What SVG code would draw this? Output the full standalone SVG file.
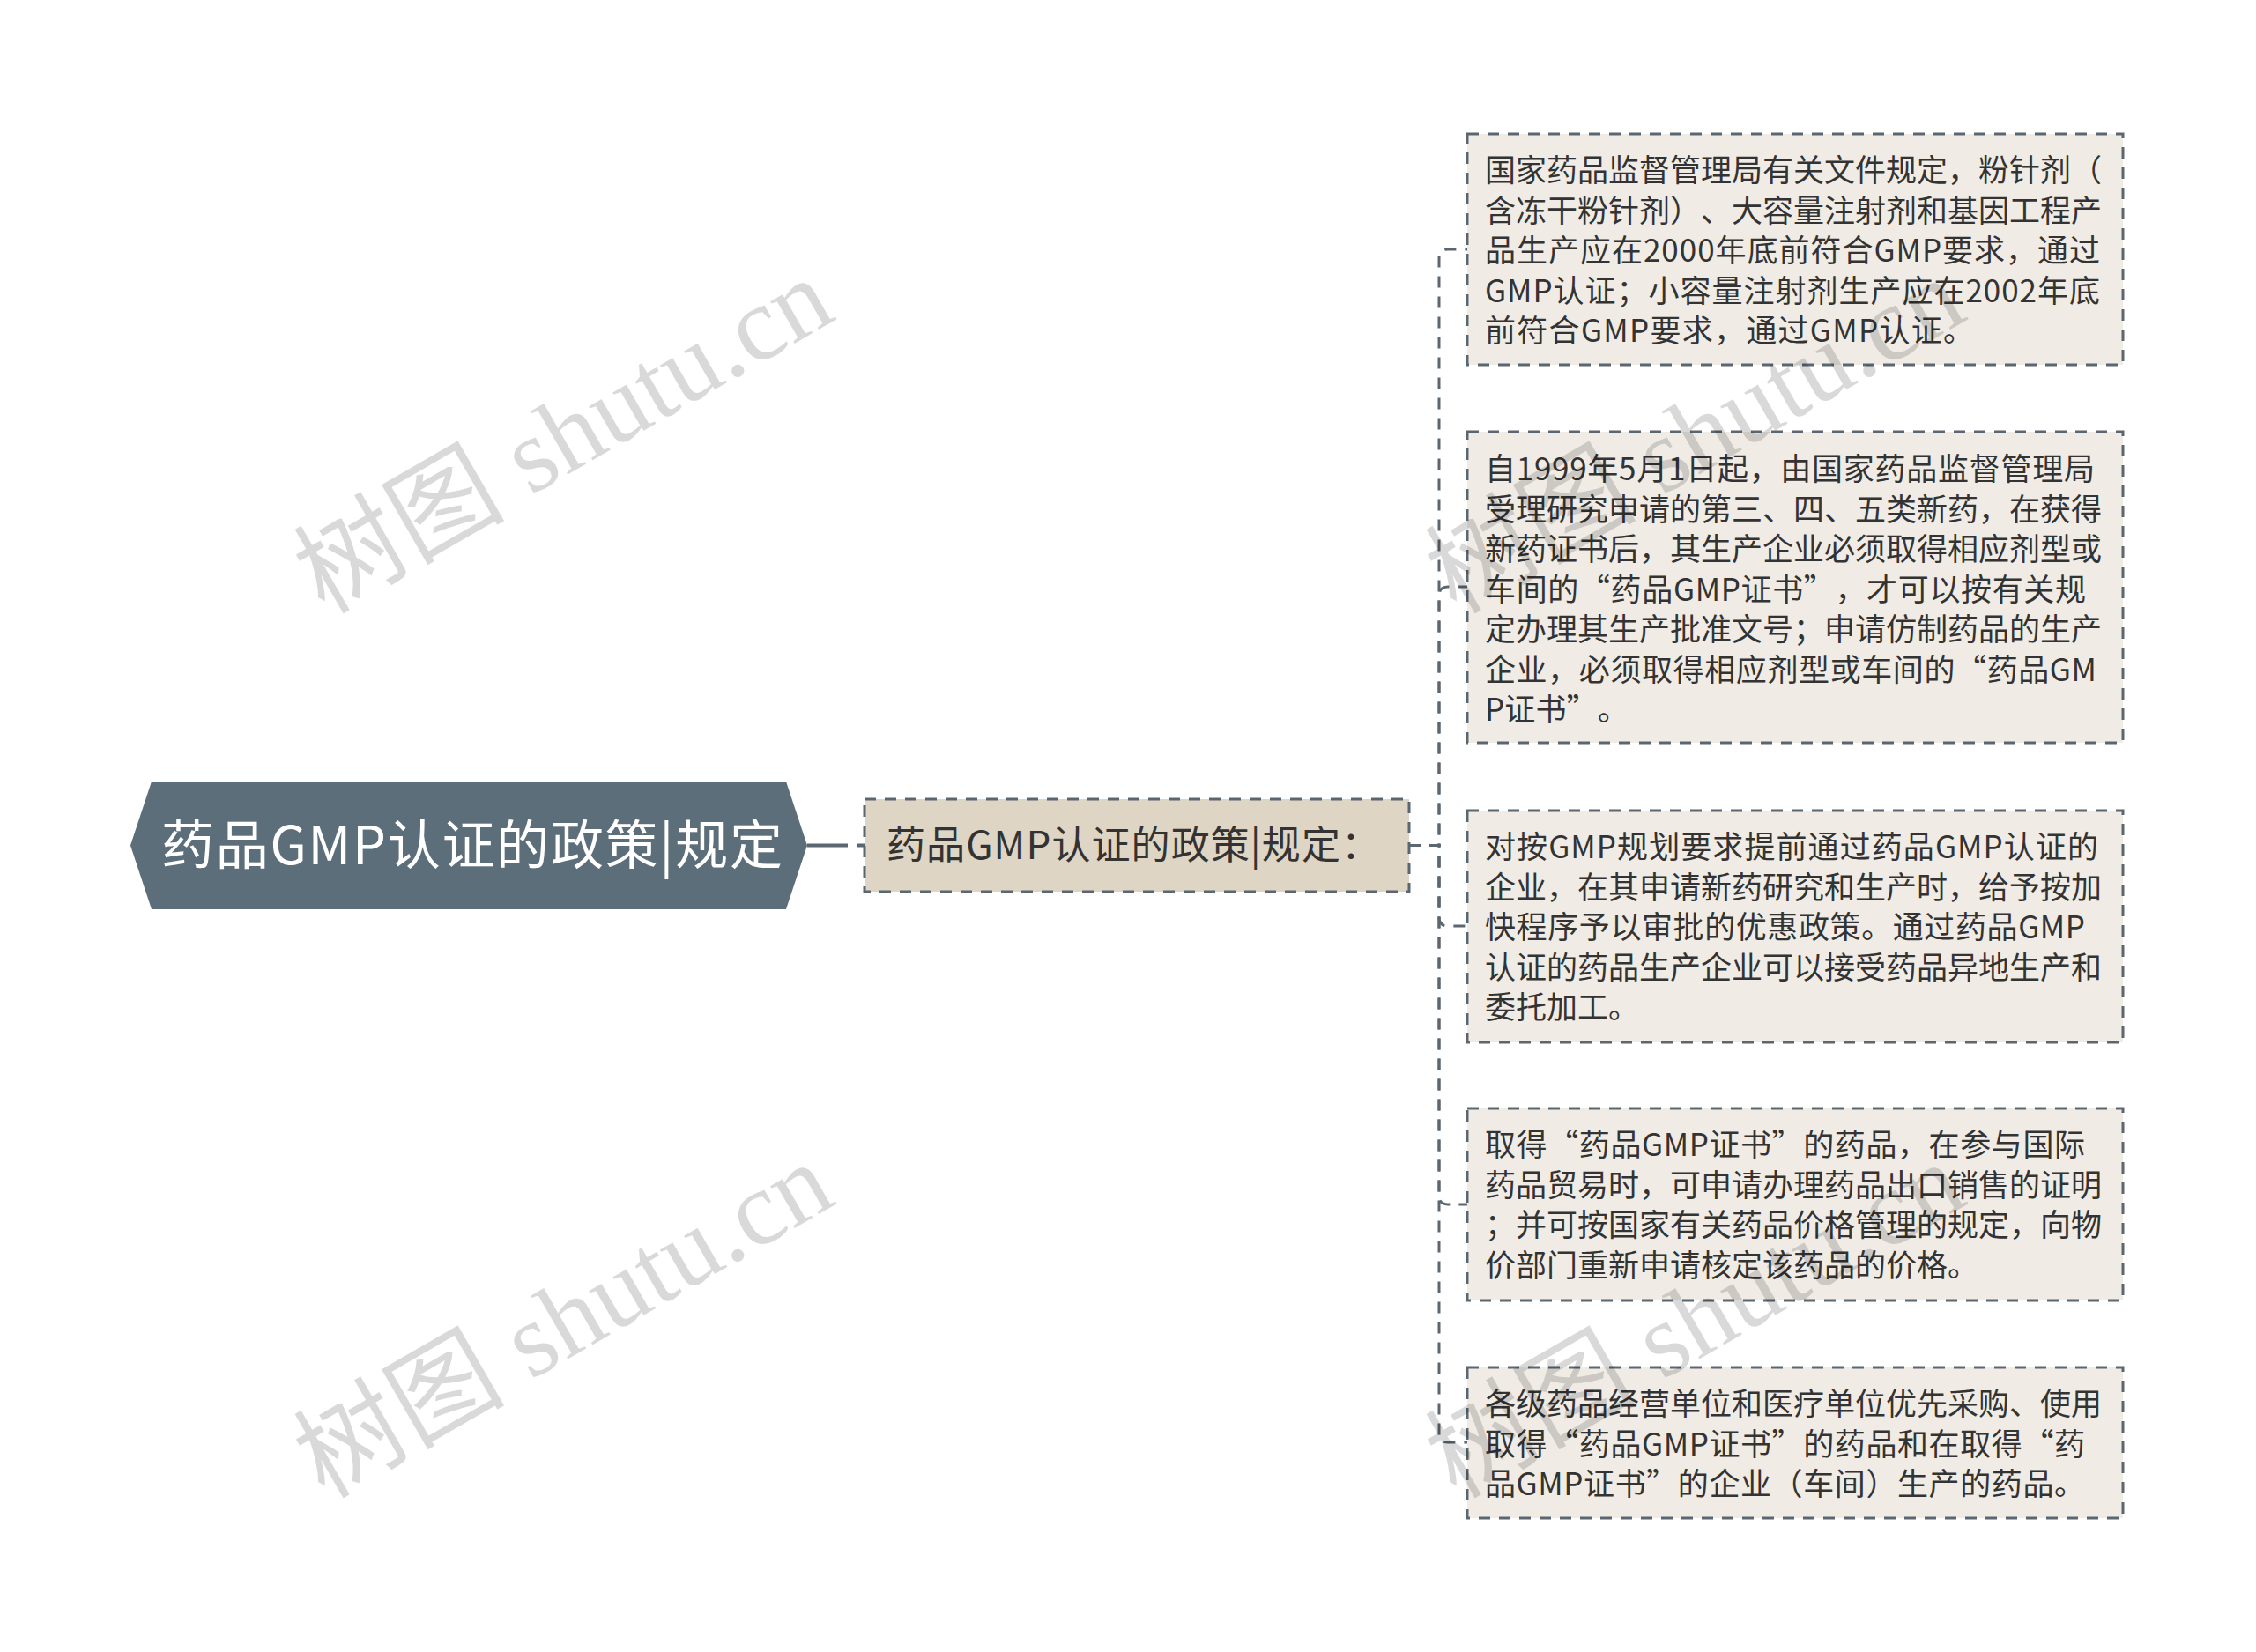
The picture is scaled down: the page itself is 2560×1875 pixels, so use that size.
<svg xmlns="http://www.w3.org/2000/svg" width="2560" height="1875" viewBox="0 0 2560 1875">
<style>
text{text-spacing-trim:space-all;font-feature-settings:"chws" 0,"halt" 0}
.leaf rect{fill:#f0ece5;stroke:#5b6770;stroke-width:3;stroke-dasharray:13 10}
.leaf text{font-family:"Noto Sans CJK SC","Noto Sans",sans-serif;font-size:35px;fill:#333}
.conn{fill:none;stroke:#5b6770;stroke-width:3;stroke-dasharray:13 10}
.wm{font-family:"Liberation Serif","Noto Sans CJK SC",serif;font-size:120px;fill:#000;fill-opacity:0.15}
</style>
<rect width="2560" height="1875" fill="#fff"/>
<g id="connectors">
<path d="M916 959.5 H981" fill="none" stroke="#5b6770" stroke-width="4" stroke-dasharray="46 10"/>
<path class="conn" d="M1599 959.5 H1633 V293 Q1633 283 1643 283 H1665"/>
<path class="conn" d="M1599 959.5 H1633 V676 Q1633 666 1643 666 H1665"/>
<path class="conn" d="M1599 959.5 H1633 V1041 Q1633 1051 1643 1051 H1665"/>
<path class="conn" d="M1599 959.5 H1633 V1357 Q1633 1367 1643 1367 H1665"/>
<path class="conn" d="M1599 959.5 H1633 V1627 Q1633 1637 1643 1637 H1665"/>
</g>
<g id="root">
<polygon points="148,959.5 172,887 892,887 916,959.5 892,1032 172,1032" fill="#5c6e79"/>
<text x="183" y="981" textLength="705" lengthAdjust="spacing" font-family="'Noto Sans CJK SC','Noto Sans',sans-serif" font-size="60" fill="#fff">药品GMP认证的政策|规定</text>
</g>
<g id="middle">
<rect x="981" y="907" width="618" height="105" fill="#dfd5c5" stroke="#5b6770" stroke-width="3" stroke-dasharray="13 10"/>
<text x="1006" y="975" textLength="560" lengthAdjust="spacing" font-family="'Noto Sans CJK SC','Noto Sans',sans-serif" font-size="44" fill="#333">药品GMP认证的政策|规定：</text>
</g>
<g id="leaf1" class="leaf">
<rect x="1665" y="152" width="744" height="262"/>
<text x="1685" y="206" textLength="700" lengthAdjust="spacing">国家药品监督管理局有关文件规定，粉针剂（</text>
<text x="1685" y="251.5" textLength="700" lengthAdjust="spacing">含冻干粉针剂）、大容量注射剂和基因工程产</text>
<text x="1685" y="297" textLength="698" lengthAdjust="spacing">品生产应在2000年底前符合GMP要求，通过</text>
<text x="1685" y="342.5" textLength="698" lengthAdjust="spacing">GMP认证；小容量注射剂生产应在2002年底</text>
<text x="1685" y="388" textLength="555" lengthAdjust="spacing">前符合GMP要求，通过GMP认证。</text>
</g>
<g id="leaf2" class="leaf">
<rect x="1665" y="490" width="744" height="353"/>
<text x="1685" y="545" textLength="692" lengthAdjust="spacing">自1999年5月1日起，由国家药品监督管理局</text>
<text x="1685" y="590.5" textLength="700" lengthAdjust="spacing">受理研究申请的第三、四、五类新药，在获得</text>
<text x="1685" y="636" textLength="700" lengthAdjust="spacing">新药证书后，其生产企业必须取得相应剂型或</text>
<text x="1685" y="681.5" textLength="682" lengthAdjust="spacing">车间的“药品GMP证书”，才可以按有关规</text>
<text x="1685" y="727" textLength="700" lengthAdjust="spacing">定办理其生产批准文号；申请仿制药品的生产</text>
<text x="1685" y="772.5" textLength="694" lengthAdjust="spacing">企业，必须取得相应剂型或车间的“药品GM</text>
<text x="1685" y="818" textLength="163" lengthAdjust="spacing">P证书”。</text>
</g>
<g id="leaf3" class="leaf">
<rect x="1665" y="920" width="744" height="263"/>
<text x="1685" y="974" textLength="696" lengthAdjust="spacing">对按GMP规划要求提前通过药品GMP认证的</text>
<text x="1685" y="1019.5" textLength="700" lengthAdjust="spacing">企业，在其申请新药研究和生产时，给予按加</text>
<text x="1685" y="1065" textLength="681" lengthAdjust="spacing">快程序予以审批的优惠政策。通过药品GMP</text>
<text x="1685" y="1110.5" textLength="700" lengthAdjust="spacing">认证的药品生产企业可以接受药品异地生产和</text>
<text x="1685" y="1156">委托加工。</text>
</g>
<g id="leaf4" class="leaf">
<rect x="1665" y="1258" width="744" height="218"/>
<text x="1685" y="1312" textLength="681" lengthAdjust="spacing">取得“药品GMP证书”的药品，在参与国际</text>
<text x="1685" y="1357.5" textLength="700" lengthAdjust="spacing">药品贸易时，可申请办理药品出口销售的证明</text>
<text x="1685" y="1403" textLength="700" lengthAdjust="spacing">；并可按国家有关药品价格管理的规定，向物</text>
<text x="1685" y="1448.5" textLength="560" lengthAdjust="spacing">价部门重新申请核定该药品的价格。</text>
</g>
<g id="leaf5" class="leaf">
<rect x="1665" y="1552" width="744" height="171"/>
<text x="1685" y="1606" textLength="700" lengthAdjust="spacing">各级药品经营单位和医疗单位优先采购、使用</text>
<text x="1685" y="1651.5" textLength="681" lengthAdjust="spacing">取得“药品GMP证书”的药品和在取得“药</text>
<text x="1685" y="1697" textLength="681" lengthAdjust="spacing">品GMP证书”的企业（车间）生产的药品。</text>
</g>
<g id="watermarks">
<text class="wm" x="368" y="698" transform="rotate(-30 368 698)">树图 shutu.cn</text>
<text class="wm" x="368" y="1702" transform="rotate(-30 368 1702)">树图 shutu.cn</text>
<text class="wm" x="1652" y="698" transform="rotate(-30 1652 698)">树图 shutu.cn</text>
<text class="wm" x="1652" y="1702" transform="rotate(-30 1652 1702)">树图 shutu.cn</text>
</g>
</svg>
